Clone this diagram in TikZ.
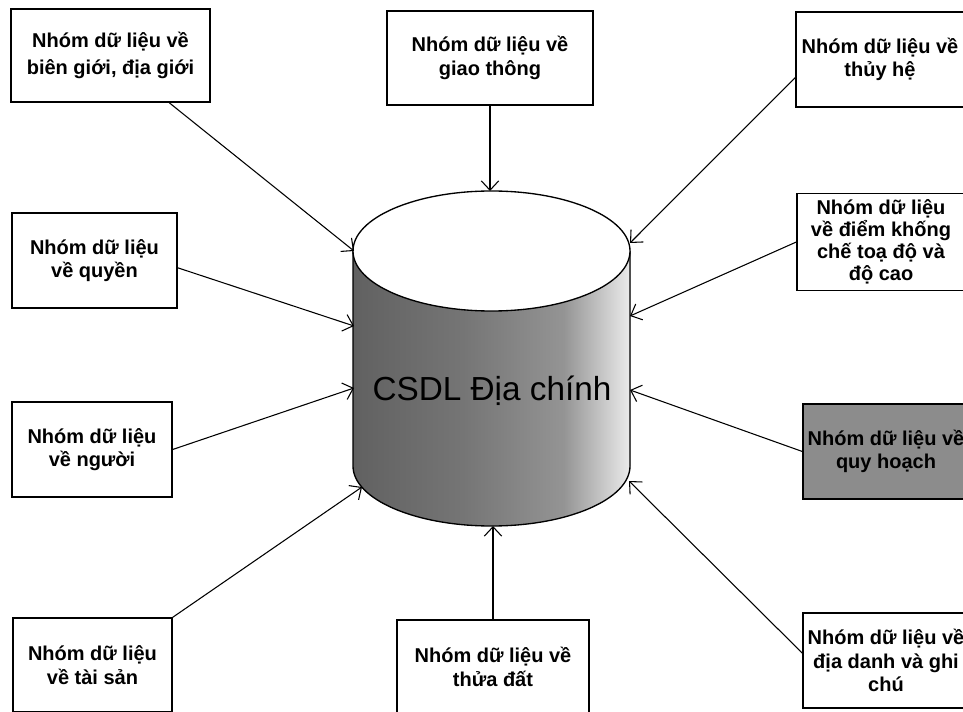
\documentclass[tikz,border=0pt]{standalone}
\usepackage{fontspec}
\setmainfont{Liberation Sans}
\usetikzlibrary{arrows.meta,calc}
\pgfdeclarehorizontalshading{cylshade}{100bp}{color(0bp)=(black!62); color(25bp)=(black!62); color(45bp)=(black!54); color(63bp)=(black!42); color(75bp)=(black!8); color(100bp)=(black!8)}
\begin{document}
\begin{tikzpicture}[x=0.75pt,y=-0.75pt,
  databox/.style 2 args={draw, line width=1pt, minimum width=#1*0.75pt, minimum height=#2*0.75pt,
    align=center, inner sep=0pt, font=\bfseries\fontsize{15}{17.5}\selectfont},
  link/.style={draw, line width=0.8pt, -{Straight Barb[length=7pt,width=13pt]}}]
\useasboundingbox (0,0) rectangle (963,712);
\clip (0,0) rectangle (963,712);

% cylinder
\fill[shading=cylshade] (353,251) -- (353,466) arc[start angle=180,end angle=0,x radius=138.5,y radius=60]
  -- (630,251) arc[start angle=0,end angle=180,x radius=138.5,y radius=60] -- cycle;
\draw[line width=1pt] (353,251) -- (353,466) arc[start angle=180,end angle=0,x radius=138.5,y radius=60]
  -- (630,251);
\filldraw[fill=white, line width=1pt] (491.5,251) ellipse[x radius=138.5, y radius=60];
\node[font=\fontsize{25}{30}\selectfont] (db) at (492,391) {CSDL Địa chính};

% arrow tips on the cylinder
\coordinate (e1) at (354,251);
\coordinate (e2) at (490,191);
\coordinate (e3) at (630,243);
\coordinate (e4) at (630,316);
\coordinate (e5) at (630,390);
\coordinate (e6) at (629,481);
\coordinate (e7) at (493,526);
\coordinate (e8) at (362,487);
\coordinate (e9) at (354,388);
\coordinate (e10) at (354,326);

% boxes
\node[databox={199}{93}, font=\bfseries\fontsize{15}{20}\selectfont] (bg) at (110.5,55.5) {Nhóm dữ liệu về\\biên giới, địa giới};
\node[databox={206}{94}] (gt) at (490,58) {Nhóm dữ liệu về\\giao thông};
\node[databox={168}{95}] (th) at (880,59.5) {Nhóm dữ liệu về\\thủy hệ};
\node[databox={168}{97}, font=\bfseries\fontsize{15}{16.5}\selectfont] (dk) at (881,242) {Nhóm dữ liệu\\về điểm khống\\chế toạ độ và\\độ cao};
\node[databox={166}{95}, fill=black!45] (qh) at (886,451.5) {Nhóm dữ liệu về\\quy hoạch};
\node[databox={166}{95}] (dd) at (886,660.5) {Nhóm dữ liệu về\\địa danh và ghi\\chú};
\node[databox={192}{94}] (td) at (493,667) {Nhóm dữ liệu về\\thửa đất};
\node[databox={159}{94}] (ts) at (92.5,665) {Nhóm dữ liệu\\về tài sản};
\node[databox={160}{95}] (ng) at (92,449.5) {Nhóm dữ liệu\\về người};
\node[databox={165}{95}] (qu) at (94.5,260.5) {Nhóm dữ liệu\\về quyền};

% connectors
\draw[link] (bg) -- (e1);
\draw[link] (gt) -- (e2);
\draw[link] (th.192) -- (e3);
\draw[link] (dk.west) -- (e4);
\draw[link] (qh.west) -- (e5);
\draw[link] (dd.175) -- (e6);
\draw[link] (td) -- (e7);
\draw[link] (ts.north east) -- (e8);
\draw[link] (ng.east) -- (e9);
\draw[link] (qu.-5) -- (e10);
\end{tikzpicture}
\end{document}
